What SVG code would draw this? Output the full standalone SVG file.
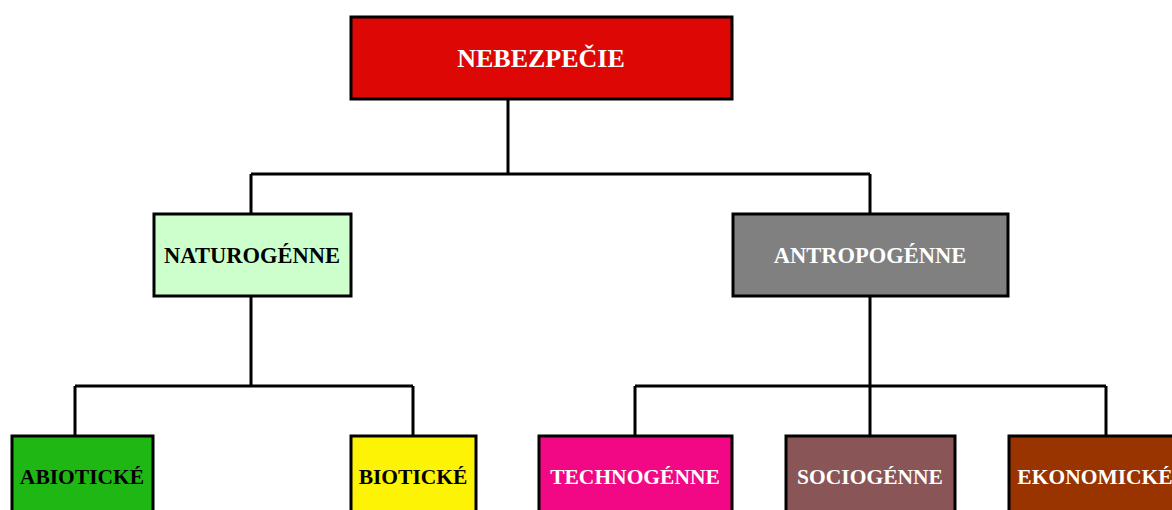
<svg xmlns="http://www.w3.org/2000/svg" width="1172" height="510" viewBox="0 0 1172 510">
<style>
.box{stroke:#000;stroke-width:3}
.t{font-family:"Liberation Serif","Times New Roman",serif;font-weight:bold;font-size:21.5px;text-anchor:middle}
.m{font-size:22.5px}
.w{fill:#fff}
.k{fill:#000}
.c{fill:none;stroke:#000;stroke-width:3}
</style>
<rect width="1172" height="510" fill="#fff"/>
<g id="connectors">
<path class="c" d="M508,99 V174 M251,174 H870 M251,174 V214 M870,174 V214"/>
<path class="c" d="M251,296 V386 M75,386 H413 M75,386 V436 M413,386 V436"/>
<path class="c" d="M870,296 V436 M635,386 H1106 M635,386 V436 M1106,386 V436"/>
</g>
<g id="nebezpecie">
<rect class="box" x="351" y="17" width="381" height="82" fill="#DD0806"/>
<text class="t w" x="541" y="67" style="font-size:26px">NEBEZPEČIE</text>
</g>
<g id="naturogenne">
<rect class="box" x="154" y="214" width="197" height="82" fill="#CCFFCC"/>
<text class="t m k" x="252" y="263">NATUROGÉNNE</text>
</g>
<g id="antropogenne">
<rect class="box" x="733" y="214" width="275" height="82" fill="#808080"/>
<text class="t m w" x="870" y="263">ANTROPOGÉNNE</text>
</g>
<g id="abioticke">
<rect class="box" x="12" y="436" width="141" height="80" fill="#1FB714"/>
<text class="t k" x="82" y="484">ABIOTICKÉ</text>
</g>
<g id="bioticke">
<rect class="box" x="351" y="436" width="125" height="80" fill="#FCF305"/>
<text class="t k" x="413" y="484">BIOTICKÉ</text>
</g>
<g id="technogenne">
<rect class="box" x="539" y="436" width="193" height="80" fill="#F20884"/>
<text class="t w" x="635" y="484">TECHNOGÉNNE</text>
</g>
<g id="sociogenne">
<rect class="box" x="786" y="436" width="169" height="80" fill="#895557"/>
<text class="t w" x="870" y="484">SOCIOGÉNNE</text>
</g>
<g id="ekonomicke">
<rect class="box" x="1009" y="436" width="200" height="80" fill="#993300"/>
<text class="t w" x="1095" y="484">EKONOMICKÉ</text>
</g>
</svg>
